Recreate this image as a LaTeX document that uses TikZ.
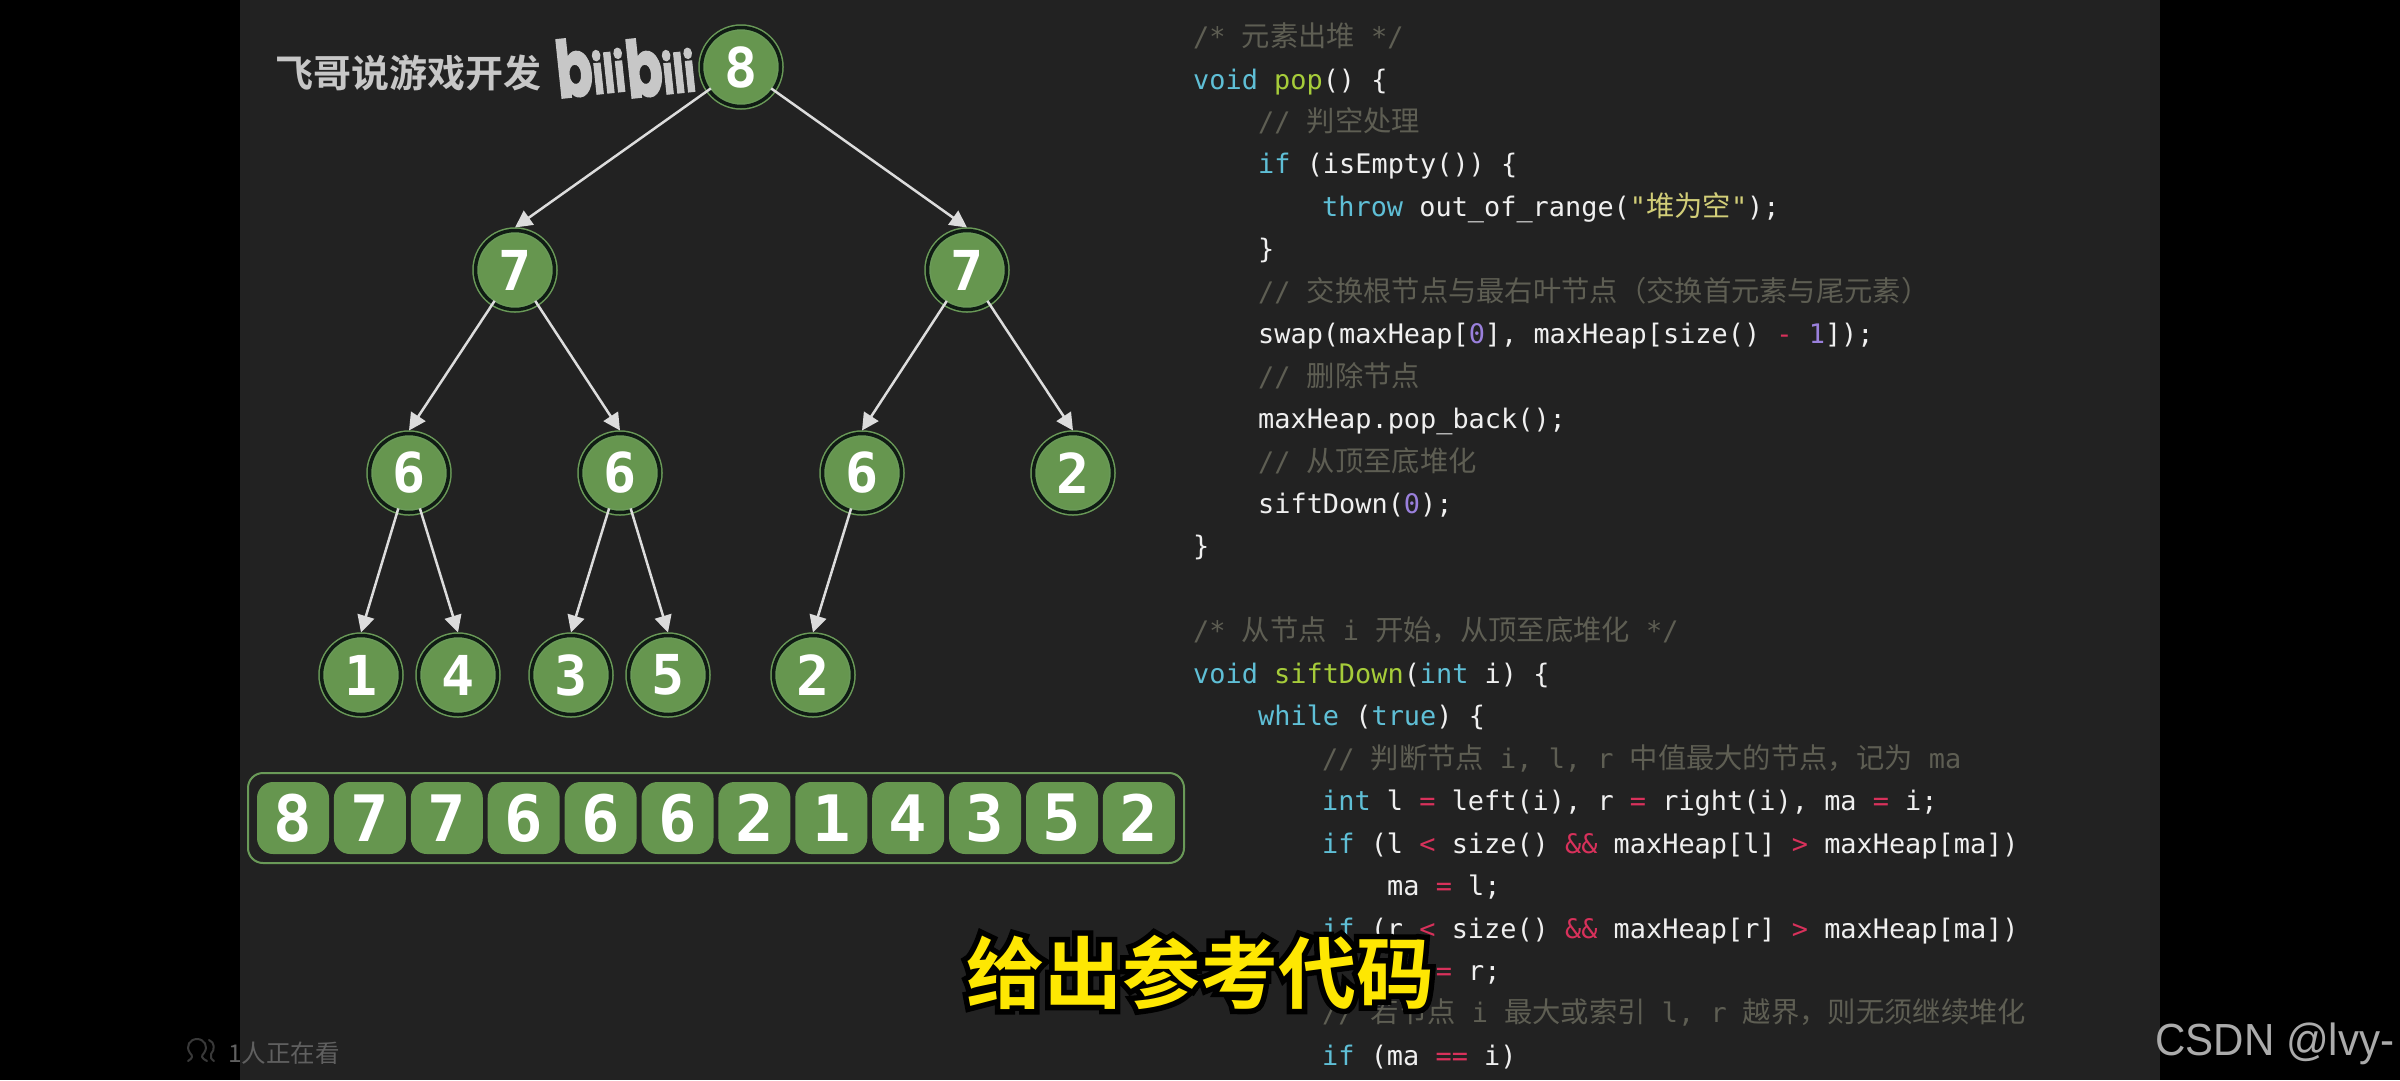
\documentclass[tikz,border=0pt]{standalone}
\usepackage{fontspec}
\usetikzlibrary{arrows.meta}
\newfontfamily\digitf{DejaVu Sans Mono}[BoldFont={DejaVu Sans Mono Bold}]
\newfontfamily\codef{DejaVu Sans Mono}
\newfontfamily\cjkf{Noto Sans CJK SC}
\newfontfamily\cjkbf{Noto Sans CJK SC Bold}
\newfontfamily\cjkhalo[FakeBold=14]{Noto Sans CJK SC Bold}
\newfontfamily\logof[FakeBold=3]{Poppins Bold}
\newfontfamily\arialf{Liberation Sans}
\definecolor{panelbg}{HTML}{222222}
\definecolor{nodegreen}{HTML}{66964F}
\definecolor{ringgreen}{HTML}{6A9A58}
\definecolor{ringdark}{HTML}{101C14}
\definecolor{edgegray}{HTML}{DCDCDC}
\definecolor{cKw}{HTML}{5FBFD6}
\definecolor{cFn}{HTML}{A6CC3A}
\definecolor{cNm}{HTML}{9A80DC}
\definecolor{cOp}{HTML}{D8315B}
\definecolor{cCm}{HTML}{5E5E53}
\definecolor{cSt}{HTML}{D2CE78}
\definecolor{cTx}{HTML}{EFEFEF}
\newcommand\Cj[1]{{\cjkf\fontsize{28.3}{28.3}\selectfont #1}}
\newcommand\Kw[1]{\textcolor{cKw}{#1}}
\newcommand\Fn[1]{\textcolor{cFn}{#1}}
\newcommand\Nm[1]{\textcolor{cNm}{#1}}
\newcommand\Op[1]{\textcolor{cOp}{#1}}
\newcommand\Cm[1]{\textcolor{cCm}{#1}}
\newcommand\St[1]{\textcolor{cSt}{#1}}
\newcommand\Bili{\logof\scalebox{.68}[1]{\fontsize{78}{78}\selectfont b\fontsize{54}{54}\selectfont ili}}
\tikzset{
  treenode/.style={circle,minimum size=79pt,inner sep=0pt,outer sep=3pt,
    draw=ringgreen,line width=1.5pt,double=ringdark,double distance=3.5pt,fill=nodegreen,
    text=white,font=\digitf\bfseries\fontsize{55}{55}\selectfont},
  edge/.style={draw=edgegray,line width=2.5pt,shorten <=-5.5pt,
    -{Triangle[length=17pt,width=17pt,fill=edgegray]}},
  cell/.style={rectangle,rounded corners=16pt,minimum width=72pt,minimum height=72pt,
    inner sep=0pt,fill=nodegreen,text=white,font=\digitf\bfseries\fontsize{64}{64}\selectfont},
  arraybox/.style={rectangle,rounded corners=15pt,draw=ringgreen,line width=2pt,
    minimum width=936pt,minimum height=90pt,inner sep=0pt},
  codeline/.style={anchor=base west,inner sep=0pt,text=cTx,yshift=-1pt,
    font=\codef\fontsize{26.9}{42}\selectfont},
  subhalo/.style={inner sep=0pt,text=black,font=\cjkhalo\fontsize{78}{78}\selectfont},
  subtext/.style={inner sep=0pt,text=yellow!90!orange,font=\cjkbf\fontsize{78}{78}\selectfont},
  person/.style={draw=gray!45!black,line width=2pt,line cap=round,line join=round},
  logotext/.style={inner sep=0pt,text=black!22,rotate=6}
}
\begin{document}
\begin{tikzpicture}[x=1pt,y=-1pt]
\fill[black] (0,0) rectangle (2400,1080);
\fill[panelbg] (240,0) rectangle (2160,1080);
\useasboundingbox (0,0) rectangle (2400,1080);

% tree
\node[treenode] (r) at (741,67) {8};
\node[treenode] (a) at (515,270) {7};
\node[treenode] (b) at (967,270) {7};
\node[treenode] (c) at (409,473) {6};
\node[treenode] (d) at (620,473) {6};
\node[treenode] (e) at (862,473) {6};
\node[treenode] (f) at (1073,473) {2};
\node[treenode] (g) at (361,675) {1};
\node[treenode] (h) at (458,675) {4};
\node[treenode] (i) at (571,675) {3};
\node[treenode] (j) at (668,675) {5};
\node[treenode] (k) at (813,675) {2};
\draw[edge] (r) -- (a.north);
\draw[edge] (r) -- (b.north);
\draw[edge] (a) -- (c.north);
\draw[edge] (a) -- (d.north);
\draw[edge] (b) -- (e.north);
\draw[edge] (b) -- (f.north);
\draw[edge] (c) -- (g.north);
\draw[edge] (c) -- (h.north);
\draw[edge] (d) -- (i.north);
\draw[edge] (d) -- (j.north);
\draw[edge] (e) -- (k.north);

% array
\node[arraybox] (arr) at (716,818) {};
\foreach \n/\v [count=\q from 0] in {c0/8,c1/7,c2/7,c3/6,c4/6,c5/6,c6/2,c7/1,c8/4,c9/3,c10/5,c11/2}
  \node[cell] (\n) at ({293+76.9*\q},818) {\v};

% watermark
\node[inner sep=0pt,text=black!22,anchor=west,font=\cjkbf\fontsize{38}{38}\selectfont] (wm) at (275,73) {飞哥说游戏开发};
\node[logotext] (logoa) at (590,66) {\Bili};
\node[logotext] (logob) at (660,66) {\Bili};

% code
\node[codeline] (l0) at (1193,45.5) {\Cm{/* \Cj{元素出堆} */}};
\node[codeline] (l1) at (1193,88) {\Kw{void} \Fn{pop}() \{};
\node[codeline] (l2) at (1258,130.4) {\Cm{// \Cj{判空处理}}};
\node[codeline] (l3) at (1258,172.9) {\Kw{if} (isEmpty()) \{};
\node[codeline] (l4) at (1322,215.3) {\Kw{throw} out\_of\_range(\St{"\Cj{堆为空}"});};
\node[codeline] (l5) at (1258,257.8) {\}};
\node[codeline] (l6) at (1258,300.2) {\Cm{// \Cj{交换根节点与最右叶节点（交换首元素与尾元素）}}};
\node[codeline] (l7) at (1258,342.7) {swap(maxHeap[\Nm{0}], maxHeap[size() \Op{-} \Nm{1}]);};
\node[codeline] (l8) at (1258,385.1) {\Cm{// \Cj{删除节点}}};
\node[codeline] (l9) at (1258,427.6) {maxHeap.pop\_back();};
\node[codeline] (l10) at (1258,470) {\Cm{// \Cj{从顶至底堆化}}};
\node[codeline] (l11) at (1258,512.5) {siftDown(\Nm{0});};
\node[codeline] (l12) at (1193,554.9) {\}};
\node[codeline] (l14) at (1193,639.8) {\Cm{/* \Cj{从节点} i \Cj{开始，从顶至底堆化} */}};
\node[codeline] (l15) at (1193,682.3) {\Kw{void} \Fn{siftDown}(\Kw{int} i) \{};
\node[codeline] (l16) at (1258,724.7) {\Kw{while} (\Kw{true}) \{};
\node[codeline] (l17) at (1322,767.2) {\Cm{// \Cj{判断节点} i, l, r \Cj{中值最大的节点，记为} ma}};
\node[codeline] (l18) at (1322,809.6) {\Kw{int} l \Op{=} left(i), r \Op{=} right(i), ma \Op{=} i;};
\node[codeline] (l19) at (1322,852.1) {\Kw{if} (l \Op{<} size() \Op{\&\&} maxHeap[l] \Op{>} maxHeap[ma])};
\node[codeline] (l20) at (1387,894.5) {ma \Op{=} l;};
\node[codeline] (l21) at (1322,937) {\Kw{if} (r \Op{<} size() \Op{\&\&} maxHeap[r] \Op{>} maxHeap[ma])};
\node[codeline] (l22) at (1387,979.4) {ma \Op{=} r;};
\node[codeline] (l23) at (1322,1021.9) {\Cm{// \Cj{若节点} i \Cj{最大或索引} l, r \Cj{越界，则无须继续堆化}}};
\node[codeline] (l24) at (1322,1064.3) {\Kw{if} (ma \Op{==} i)};

% subtitle
\node[subhalo] (subh) at (1200,972) {给出参考代码};
\node[subtext] (sub) at (1200,972) {给出参考代码};

% viewers
\draw[person] (188,1061) .. controls (193,1058) and (193,1056) .. (190,1053)
  .. controls (185,1046) and (190,1039) .. (197,1039)
  .. controls (204,1039) and (209,1046) .. (204,1053)
  .. controls (201,1056) and (201,1058) .. (207,1061);
\draw[person] (209,1040) .. controls (215,1042) and (215,1050) .. (211,1054)
  .. controls (210,1057) and (211,1059) .. (214,1061);
\node[inner sep=0pt,anchor=west,text=gray!75!black,font=\cjkf\fontsize{24.5}{24.5}\selectfont] (view) at (228,1053) {1人正在看};

% csdn
\node[inner sep=0pt,anchor=base west,text=black!33,font=\arialf\fontsize{45}{45}\selectfont] (csdn) at (2155,1055) {\scalebox{.935}[1]{CSDN @lvy-}};
\end{tikzpicture}
\end{document}
